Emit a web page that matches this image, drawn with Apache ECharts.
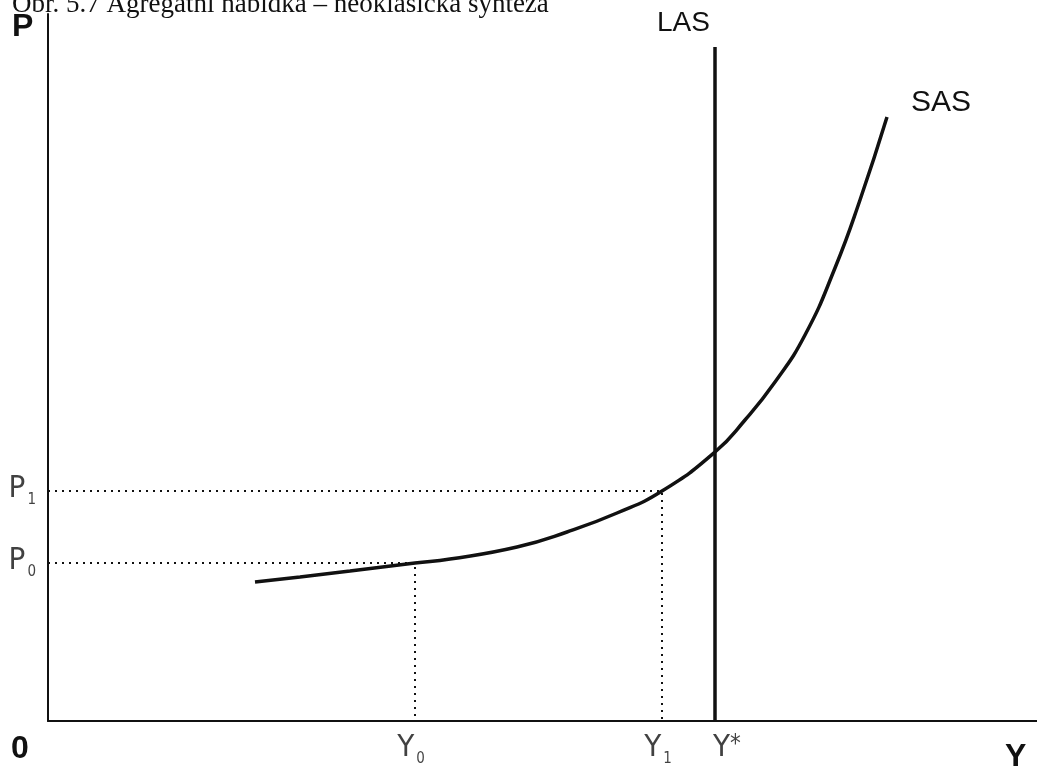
<!DOCTYPE html>
<html>
<head>
<meta charset="utf-8">
<script src="https://cdn.jsdelivr.net/npm/echarts@6/dist/echarts.min.js"></script>
<style>html,body{margin:0;padding:0;background:#fff;}#c{width:1037px;height:771px;}</style>
</head>
<body>
<div id="c"></div>
<script>
// Data (in chart units)
const sasX = [207, 252, 302, 367, 402, 469, 519, 569, 614, 667, 697, 727, 757, 787, 812, 839];
const sasY = [139, 144, 150, 158, 162, 174, 189, 208, 230, 269, 301, 339, 386, 453, 521, 604];
const lasX = 667;          // Y*
const lasTop = 674;
const priceLevels = [158, 230];      // P0, P1
const priceLabels = ['0', '1'];
const outputLevels = [367, 614];     // Y0, Y1
const outputLabels = ['0', '1'];
const titleText = 'Obr. 5.7 Agregátní nabídka – neoklasická syntéza';

const narrow = "'Liberation Sans Narrow','Arial Narrow','DejaVu Sans Condensed','Liberation Sans',sans-serif";
const sans = "'Liberation Sans',Arial,sans-serif";

const sasData = sasX.map((x, i) => [x, sasY[i]]);
const guideSeries = priceLevels.map((p, i) => ({
  type: 'line',
  data: [[0, p], [outputLevels[i], p], [outputLevels[i], 0]],
  symbol: 'none',
  lineStyle: { color: '#111', width: 2, type: [2, 5] },
  silent: true,
  z: 1
}));

const richTick = {
  m: { fontSize: 31, fontFamily: narrow, color: '#111', lineHeight: 34 },
  s: { fontSize: 15, fontFamily: narrow, color: '#111', lineHeight: 34, padding: [22, 0, 0, 2] },
  star: { fontSize: 24, fontFamily: narrow, color: '#111', lineHeight: 34, padding: [0, 0, 6, 0] }
};

const chart = echarts.init(document.getElementById('c'));
chart.setOption({
  animation: false,
  backgroundColor: '#fff',
  grid: { left: 48, right: 0, top: 14, bottom: 50, containLabel: false },
  xAxis: {
    type: 'value', min: 0, max: 989,
    axisLine: { show: true, lineStyle: { color: '#111', width: 2 } },
    axisTick: { show: false }, axisLabel: { show: false }, splitLine: { show: false }
  },
  yAxis: {
    type: 'value', min: 0, max: 707,
    axisLine: { show: true, lineStyle: { color: '#111', width: 2 } },
    axisTick: { show: false }, axisLabel: { show: false }, splitLine: { show: false }
  },
  series: [
    ...guideSeries,
    {
      name: 'SAS', type: 'line', data: sasData, smooth: 0.5, symbol: 'none',
      lineStyle: { color: '#111', width: 3.5 }, z: 3,
      endLabel: { show: true, formatter: 'SAS', fontSize: 30, fontFamily: sans, color: '#111', offset: [16, -14] }
    },
    {
      name: 'LAS', type: 'line', data: [[lasX, 0], [lasX, lasTop]], symbol: 'none',
      lineStyle: { color: '#111', width: 3.5 }, z: 3,
      endLabel: { show: true, formatter: 'LAS', fontSize: 28, fontFamily: sans, color: '#111', offset: [-66, -24] }
    },
    {
      type: 'scatter', symbolSize: 0, silent: true,
      data: priceLevels.map((p, i) => ({
        value: [0, p],
        label: { show: true, position: 'left', distance: 12, formatter: '{m|P}{s|' + priceLabels[i] + '}', rich: richTick, offset: [0, -2] }
      })).concat(outputLevels.map((y, i) => ({
        value: [y, 0],
        label: { show: true, position: 'bottom', distance: 10, formatter: '{m|Y}{s|' + outputLabels[i] + '}', rich: richTick, offset: [-4, 0] }
      }))).concat([{
        value: [lasX, 0],
        label: { show: true, position: 'bottom', distance: 10, formatter: '{m|Y}{star|*}', rich: richTick, offset: [12, 0] }
      }])
    }
  ],
  graphic: [
    { type: 'text', left: 12, top: -9, style: { text: titleText, font: "27px 'Liberation Serif','Times New Roman',serif", fill: '#111' } },
    { type: 'text', left: 12, top: 11, style: { text: 'P', font: "bold 32px " + sans, fill: '#111' } },
    { type: 'text', left: 11, top: 733, style: { text: '0', font: "bold 32px " + sans, fill: '#111' } },
    { type: 'text', left: 1005, top: 741, style: { text: 'Y', font: "bold 32px " + sans, fill: '#111' } }
  ]
});
</script>
</body>
</html>
